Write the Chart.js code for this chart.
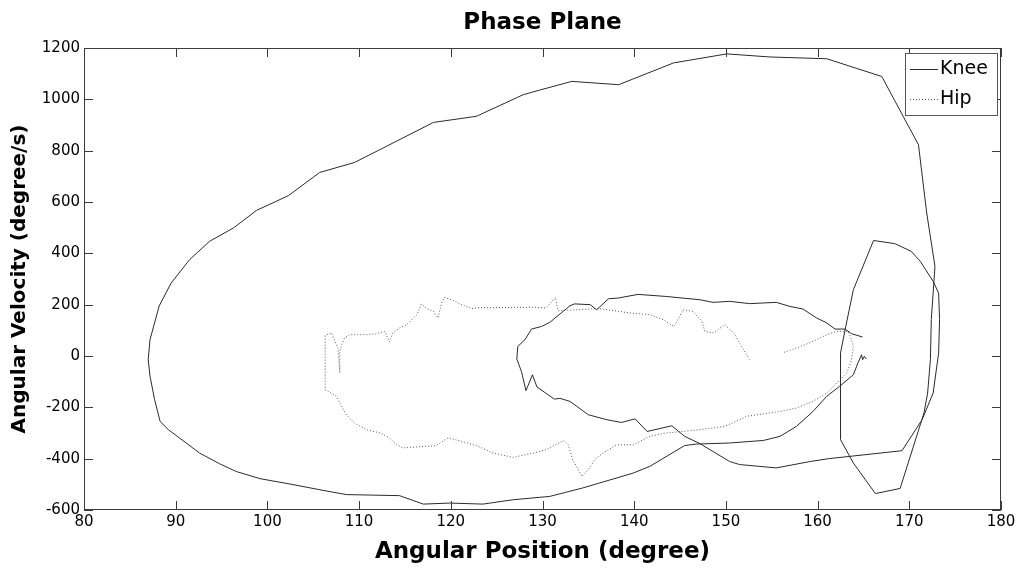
<!DOCTYPE html>
<html>
<head>
<meta charset="utf-8">
<title>Phase Plane</title>
<script src="https://cdn.jsdelivr.net/npm/chart.js@4.4.0/dist/chart.umd.min.js"></script>
<style>
  html, body { margin: 0; padding: 0; background: #fff; }
  canvas { display: block; }
</style>
</head>
<body>
<canvas id="phase" width="1019" height="572"></canvas>
<script>
// angular position (degree) / angular velocity (degree/s)
const kneeX = [165.3, 165.1, 164.9, 164.8, 164.4, 163.9, 162.4, 161.0, 159.5, 157.7,
  155.9, 154.1, 150.4, 146.8, 145.5, 141.7, 139.9, 134.4, 130.8, 126.8,
  123.5, 119.9, 117.0, 114.4, 108.6, 105.7, 102.8, 99.2, 96.6, 94.8,
  92.6, 90.4, 89.2, 88.3, 87.7, 87.2, 87.0, 87.2, 88.2, 89.5,
  91.5, 93.7, 96.3, 98.8, 102.3, 105.7, 109.5, 113.7, 118.1, 122.8,
  127.9, 129.7, 133.2, 138.3, 144.3, 150.1, 154.8, 161.0, 167.0, 171.0,
  171.9, 172.8, 172.4, 172.3, 172.0, 171.6, 169.0, 166.3, 163.9, 162.5,
  162.5, 163.0, 163.9, 166.1, 168.4, 170.2, 171.2, 172.6, 173.2, 173.3,
  173.2, 172.6, 171.4, 169.2, 161.2, 159.2, 155.5, 151.5, 150.4, 147.2,
  145.5, 144.1, 141.4, 140.1, 138.6, 137.0, 135.0, 133.0, 131.9, 131.3,
  129.4, 128.9, 128.2, 127.7, 127.2, 127.3, 128.1, 128.8, 129.9, 130.8,
  133.0, 133.5, 135.2, 135.9, 137.2, 138.3, 140.4, 143.5, 147.2, 148.6,
  150.4, 152.6, 155.5, 157.0, 158.4, 159.9, 161.0, 161.9, 163.0, 163.7,
  164.9];
const kneeY = [-12, -1, -15, 5, -27, -73, -118, -157, -216, -274,
  -313, -329, -339, -343, -349, -430, -456, -514, -547, -560,
  -577, -573, -577, -544, -540, -521, -501, -478, -450, -420,
  -378, -319, -287, -255, -170, -79, -14, 64, 195, 284,
  375, 447, 499, 567, 625, 715, 754, 830, 910, 934,
  1018, 1036, 1070, 1057, 1142, 1177, 1165, 1158, 1089, 823,
  557, 349, 142, -14, -144, -222, -516, -536, -417, -326,
  12, 103, 258, 450, 438, 408, 369, 291, 245, 142,
  12, -144, -248, -369, -400, -411, -436, -423, -411, -342,
  -313, -272, -294, -245, -259, -248, -229, -177, -165, -168,
  -121, -73, -135, -60, -12, 37, 64, 105, 115, 131,
  196, 203, 200, 180, 223, 226, 240, 232, 219, 209,
  213, 204, 209, 193, 183, 148, 129, 105, 105, 87,
  74];

const hipX = [152.6, 151.7, 151.0, 149.9, 148.6, 147.7, 147.4, 146.4, 145.3, 144.6,
  144.3, 143.2, 141.7, 139.5, 137.7, 136.1, 131.7, 131.4, 130.4, 129.0,
  122.8, 122.3, 121.2, 120.1, 119.3, 119.0, 118.6, 118.1, 117.4, 116.8,
  116.3, 115.2, 114.4, 113.7, 113.3, 112.8, 111.9, 110.8, 109.9, 109.0,
  108.4, 108.1, 107.9, 107.9, 107.7, 107.0, 106.3, 106.3, 106.3, 107.5,
  108.1, 108.6, 109.5, 110.8, 112.3, 113.3, 114.1, 114.8, 118.4, 119.7,
  120.8, 122.8, 124.6, 126.8, 129.0, 130.4, 132.3, 132.8, 133.3, 134.3,
  135.0, 135.7, 136.6, 138.1, 139.9, 141.7, 143.5, 145.3, 147.2, 149.9,
  152.3, 155.9, 157.7, 159.5, 161.0, 162.1, 163.2, 163.7, 163.9, 163.7,
  163.3, 162.1, 161.0, 159.5, 157.7, 156.3];
const hipY = [-14, 37, 83, 122, 90, 96, 135, 174, 180, 129,
  115, 141, 161, 168, 177, 185, 176, 228, 187, 190,
  188, 184, 200, 219, 228, 207, 148, 174, 184, 203,
  161, 122, 109, 90, 55, 96, 87, 83, 83, 83,
  70, 44, 18, -66, 30, 90, 80, 18, -131, -157,
  -196, -229, -261, -287, -300, -319, -346, -358, -349, -319,
  -329, -349, -378, -395, -378, -365, -329, -346, -404, -469,
  -443, -404, -378, -346, -346, -313, -300, -294, -287, -274,
  -235, -216, -203, -177, -144, -105, -66, -14, 37, 64,
  96, 96, 83, 57, 31, 14];

const xTicks = [80, 90, 100, 110, 120, 130, 140, 150, 160, 170, 180];
const yTicks = [-600, -400, -200, 0, 200, 400, 600, 800, 1000, 1200];

const FONT = "'DejaVu Sans', 'Liberation Sans', sans-serif";
const TICK_LEN = 9;

const toPoints = (xs, ys) => xs.map((x, i) => ({ x: x, y: ys[i] }));

// matlab style axes box with inward ticks on all four sides, plus the legend box
const boxPlugin = {
  id: 'matlabBox',
  afterDraw(chart) {
    const { ctx, chartArea: a, scales } = chart;
    ctx.save();
    ctx.strokeStyle = '#3a3a3a';
    ctx.lineWidth = 1;
    ctx.strokeRect(a.left + 0.5, a.top + 0.5, a.right - a.left - 1, a.bottom - a.top - 1);

    ctx.beginPath();
    xTicks.forEach(v => {
      const px = Math.round(scales.x.getPixelForValue(v)) + 0.5;
      ctx.moveTo(px, a.bottom);
      ctx.lineTo(px, a.bottom - TICK_LEN);
      ctx.moveTo(px, a.top);
      ctx.lineTo(px, a.top + TICK_LEN);
    });
    yTicks.forEach(v => {
      const py = Math.round(scales.y.getPixelForValue(v)) + 0.5;
      ctx.moveTo(a.left, py);
      ctx.lineTo(a.left + TICK_LEN, py);
      ctx.moveTo(a.right, py);
      ctx.lineTo(a.right - TICK_LEN, py);
    });
    ctx.stroke();

    // legend
    const lx = a.right - 96, ly = a.top + 5, lw = 92, lh = 62;
    ctx.fillStyle = '#fff';
    ctx.fillRect(lx, ly, lw, lh);
    ctx.strokeStyle = '#555';
    ctx.strokeRect(lx + 0.5, ly + 0.5, lw, lh);
    ctx.font = '19px ' + FONT;
    ctx.textBaseline = 'middle';
    ctx.fillStyle = '#000';
    chart.data.datasets.forEach((ds, i) => {
      const rowY = ly + 16.5 + i * 30;
      ctx.strokeStyle = ds.borderColor;
      ctx.setLineDash(ds.borderDash || []);
      ctx.beginPath();
      ctx.moveTo(lx + 5, rowY);
      ctx.lineTo(lx + 33, rowY);
      ctx.stroke();
      ctx.setLineDash([]);
      ctx.fillText(ds.label, lx + 35, rowY);
    });
    ctx.restore();
  }
};

new Chart(document.getElementById('phase'), {
  type: 'scatter',
  data: {
    datasets: [
      {
        label: 'Knee',
        data: toPoints(kneeX, kneeY),
        showLine: true,
        borderColor: '#2a2a2a',
        borderWidth: 1,
        pointRadius: 0,
        tension: 0
      },
      {
        label: 'Hip',
        data: toPoints(hipX, hipY),
        showLine: true,
        borderColor: '#555',
        borderWidth: 1,
        borderDash: [1, 2],
        pointRadius: 0,
        tension: 0
      }
    ]
  },
  options: {
    responsive: false,
    animation: false,
    layout: { padding: { left: 0, right: 18, top: 0, bottom: 0 } },
    plugins: {
      legend: { display: false },
      tooltip: { enabled: false },
      title: {
        display: true,
        text: 'Phase Plane',
        fullSize: false,
        color: '#000',
        font: { family: FONT, size: 23, weight: 'bold', lineHeight: '28px' },
        padding: { top: 9, bottom: 11 }
      }
    },
    scales: {
      x: {
        type: 'linear',
        min: 80,
        max: 180,
        afterBuildTicks: scale => { scale.ticks = xTicks.map(v => ({ value: v })); },
        afterFit: scale => { scale.height = 62; },
        grid: { display: false, drawTicks: false },
        border: { display: false },
        ticks: {
          color: '#000',
          font: { family: FONT, size: 15 },
          padding: 3,
          maxRotation: 0,
          autoSkip: false,
          callback: v => String(v)
        },
        title: {
          display: true,
          text: 'Angular Position (degree)',
          color: '#000',
          font: { family: FONT, size: 23, weight: 'bold' },
          padding: { top: 0, bottom: 6 }
        }
      },
      y: {
        type: 'linear',
        min: -600,
        max: 1200,
        afterBuildTicks: scale => { scale.ticks = yTicks.map(v => ({ value: v })); },
        afterFit: scale => { scale.width = 84; },
        grid: { display: false, drawTicks: false },
        border: { display: false },
        ticks: {
          color: '#000',
          font: { family: FONT, size: 15 },
          padding: 4,
          autoSkip: false,
          callback: v => String(v)
        },
        title: {
          display: true,
          text: 'Angular Velocity (degree/s)',
          color: '#000',
          font: { family: FONT, size: 20, weight: 'bold' },
          padding: { top: 8, bottom: 0 }
        }
      }
    }
  },
  plugins: [boxPlugin]
});
</script>
</body>
</html>
